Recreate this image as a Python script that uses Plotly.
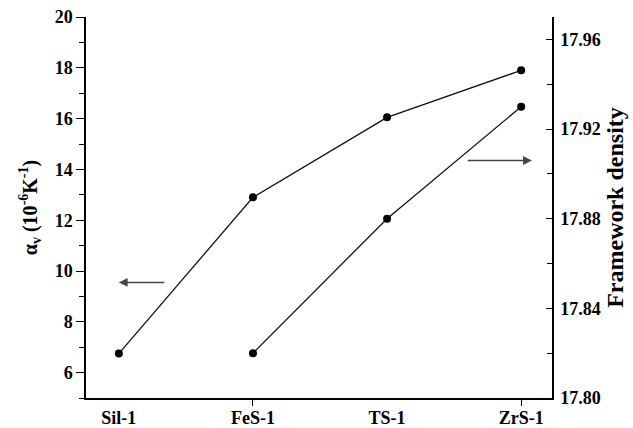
import plotly.graph_objects as go

# Zeolite samples along the x axis
categories = ["Sil-1", "FeS-1", "TS-1", "ZrS-1"]

# Volumetric thermal expansion coefficient (10^-6 K^-1), left axis
alpha_v = [6.75, 12.9, 16.05, 17.9]

# Framework density, right axis (no value for Sil-1)
fd_categories = ["FeS-1", "TS-1", "ZrS-1"]
framework_density = [17.82, 17.88, 17.93]

idx = {c: i for i, c in enumerate(categories)}
font_family = "Liberation Serif"

fig = go.Figure()

fig.add_trace(go.Scatter(
    x=[idx[c] for c in categories], y=alpha_v,
    mode="lines+markers",
    line=dict(color="#111111", width=1.3),
    marker=dict(color="black", size=8),
    yaxis="y", showlegend=False,
))

fig.add_trace(go.Scatter(
    x=[idx[c] for c in fd_categories], y=framework_density,
    mode="lines+markers",
    line=dict(color="#111111", width=1.3),
    marker=dict(color="black", size=8),
    yaxis="y2", showlegend=False,
))

# Arrows pointing each curve to its axis
arrow_style = dict(showarrow=True, arrowhead=2, arrowsize=1.1, arrowwidth=1.6,
                   arrowcolor="#444444", text="", xref="x", yref="y",
                   axref="x", ayref="y")
fig.add_annotation(x=0.0, y=9.55, ax=0.35, ay=9.55, **arrow_style)
fig.add_annotation(x=3.08, y=14.35, ax=2.59, ay=14.35, **arrow_style)

tick_font = dict(family=font_family, size=18, color="black", weight="bold")

fig.update_layout(
    width=633, height=428,
    margin=dict(l=86, r=81, t=17, b=30),
    paper_bgcolor="white", plot_bgcolor="white",
    font=dict(family=font_family, color="black"),
    xaxis=dict(
        range=[-0.245, 3.23], automargin=False,
        tickvals=list(range(len(categories))),
        ticktext=categories,
        ticks="", showgrid=False, zeroline=False,
        showline=True, linecolor="black", linewidth=1.5,
        tickfont=tick_font, ticklabelstandoff=3,
        minor=dict(tickvals=[1, 3], ticks="outside", ticklen=6,
                   tickwidth=1.3, tickcolor="black"),
    ),
    yaxis=dict(
        range=[5, 20], tick0=0, dtick=2, automargin=False,
        ticks="outside", ticklen=8, tickwidth=1.3, tickcolor="black",
        minor=dict(dtick=1, tick0=0, ticks="outside", ticklen=5,
                   tickwidth=1.3, tickcolor="black"),
        showgrid=False, zeroline=False,
        showline=True, linecolor="black", linewidth=1.5,
        tickfont=tick_font,
        title=dict(text="α<sub>v</sub> (10<sup>-6</sup>K<sup>-1</sup>)",
                   font=dict(family=font_family, size=20, color="black",
                             weight="bold"),
                   standoff=12),
    ),
    yaxis2=dict(
        overlaying="y", side="right", automargin=False,
        range=[17.80, 17.97], tick0=17.80, dtick=0.04, tickformat=".2f",
        ticks="inside", ticklen=6, tickwidth=1.3, tickcolor="black",
        minor=dict(dtick=0.02, tick0=17.80, ticks="inside", ticklen=5,
                   tickwidth=1.3, tickcolor="black"),
        showgrid=False, zeroline=False,
        showline=True, linecolor="black", linewidth=1.5,
        tickfont=tick_font, ticklabelstandoff=3,
        title=dict(text="Framework density",
                   font=dict(family=font_family, size=24, color="black",
                             weight="bold"),
                   standoff=6),
    ),
)

fig.write_html("out.html")
